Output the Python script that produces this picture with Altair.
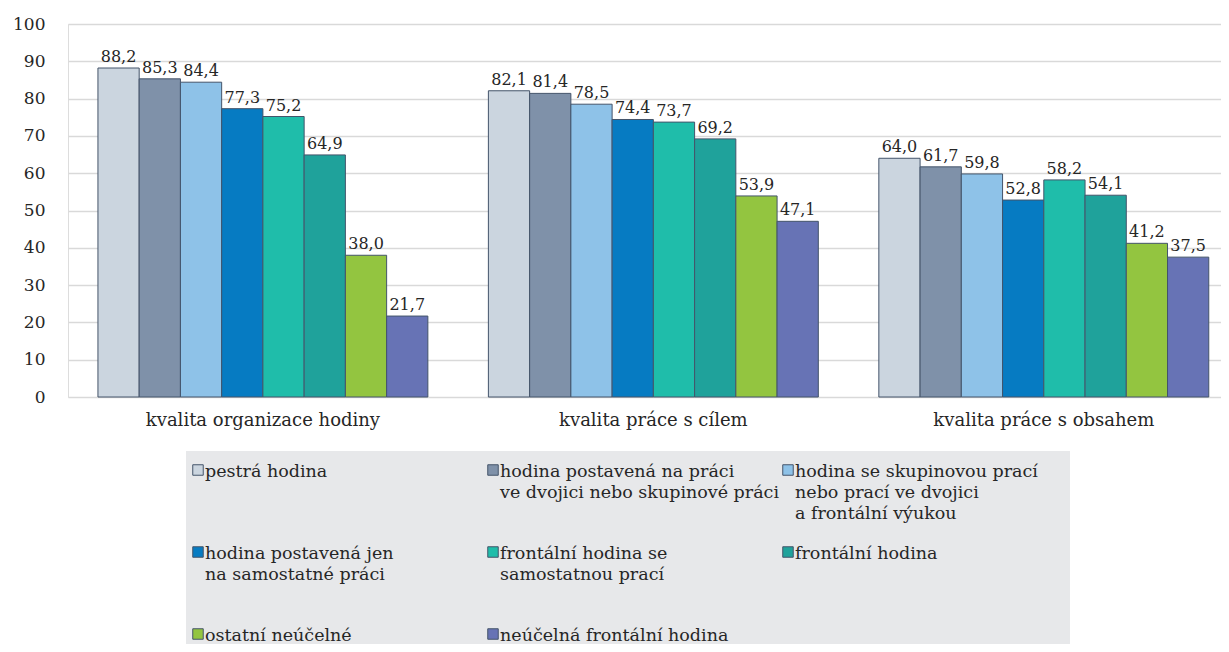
import altair as alt
import pandas as pd

categories = ["kvalita organizace hodiny", "kvalita práce s cílem", "kvalita práce s obsahem"]
series = [
    "pestrá hodina",
    "hodina postavená na práci\nve dvojici nebo skupinové práci",
    "hodina se skupinovou prací\nnebo prací ve dvojici\na frontální výukou",
    "hodina postavená jen\nna samostatné práci",
    "frontální hodina se\nsamostatnou prací",
    "frontální hodina",
    "ostatní neúčelné",
    "neúčelná frontální hodina",
]
colors = ["#cbd5df", "#7f91a9", "#8ec2e8", "#067bc2", "#1fbdaa", "#1fa29b", "#93c540", "#6773b5"]
values_organizace = [88.2, 85.3, 84.4, 77.3, 75.2, 64.9, 38.0, 21.7]
values_cil = [82.1, 81.4, 78.5, 74.4, 73.7, 69.2, 53.9, 47.1]
values_obsah = [64.0, 61.7, 59.8, 52.8, 58.2, 54.1, 41.2, 37.5]

rows = []
for cat, vals in zip(categories, [values_organizace, values_cil, values_obsah]):
    for s, v in zip(series, vals):
        rows.append({"kategorie": cat, "serie": s, "hodnota": v})
df = pd.DataFrame(rows)

legend_df = pd.DataFrame({
    "serie": series,
    "sloupec": [i % 3 for i in range(len(series))],
    "radek": [i // 3 for i in range(len(series))],
})

FONT = "DejaVu Serif"
TXT = "#262626"

x_axis = alt.Axis(title=None, labelAngle=0, domain=False, ticks=False,
                  labelFontSize=18, labelFont=FONT, labelColor=TXT,
                  labelPadding=14, labelLimit=500)
y_axis = alt.Axis(title=None, values=list(range(0, 101, 10)), domain=False, ticks=False,
                  labelFontSize=17, labelFont=FONT, labelColor=TXT, labelPadding=23,
                  gridColor="#d9d9d9", gridWidth=1.5, labelOverlap=False)
x_scale = alt.Scale(paddingInner=0.155, paddingOuter=0.054, align=0.71)
xoff_scale = alt.Scale(domain=series, paddingInner=0, paddingOuter=0)
y_scale = alt.Scale(domain=[0, 100])
color_scale = alt.Scale(domain=series, range=colors)

base = alt.Chart(df).encode(
    x=alt.X("kategorie:N", sort=categories, scale=x_scale, axis=x_axis),
    xOffset=alt.XOffset("serie:N", sort=series, scale=xoff_scale),
    y=alt.Y("hodnota:Q", scale=y_scale, axis=y_axis),
)

bars = base.mark_bar(stroke="#44546a", strokeWidth=1).encode(
    color=alt.Color("serie:N", sort=series, scale=color_scale, legend=None),
)

labels = base.transform_calculate(
    label="replace(format(datum.hodnota, '.1f'), '.', ',')"
).mark_text(baseline="bottom", dy=-3, fontSize=16, font=FONT, color=TXT).encode(
    text="label:N",
)

main = alt.layer(bars, labels)

lx = alt.X("sloupec:Q", scale=alt.Scale(domain=[0, 3], range=[130, 130 + 3 * 295]), axis=None)
ly = alt.Y("radek:Q", scale=alt.Scale(domain=[0, 3], range=[446, 446 + 3 * 82]), axis=None)

legend_bg = alt.Chart(legend_df).mark_rect(color="#e7e8ea").encode(
    x=alt.value(118), x2=alt.value(1002), y=alt.value(427), y2=alt.value(700)
).transform_filter("datum.sloupec == 0 && datum.radek == 0")

legend_sym = alt.Chart(legend_df).mark_square(
    size=110, opacity=1, stroke="#44546a", strokeWidth=1
).encode(
    x=lx, y=ly,
    color=alt.Color("serie:N", sort=series, scale=color_scale, legend=None),
)

legend_txt = alt.Chart(legend_df).mark_text(
    align="left", baseline="top", dx=7, dy=-7, fontSize=17.5, font=FONT,
    color=TXT, lineBreak="\n", lineHeight=21,
).encode(x=lx, y=ly, text="serie:N")

legend = alt.layer(legend_bg, legend_sym, legend_txt)

chart = alt.layer(main, legend).resolve_scale(x="independent", y="independent").properties(
    width=1153,
    height=373,
    autosize=alt.AutoSizeParams(type="none"),
    padding={"left": 60, "top": 16, "right": 0, "bottom": 247},
).configure_view(stroke=None).configure(font=FONT)

chart.save("out.html", embed_options={"renderer": "svg", "actions": False})
